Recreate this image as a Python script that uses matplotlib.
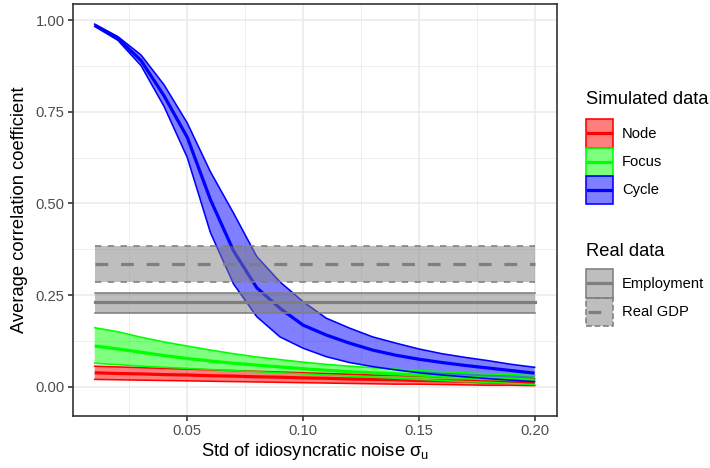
import matplotlib.pyplot as plt
import numpy as np
from matplotlib.patches import Rectangle
from matplotlib.lines import Line2D

plt.rcParams['font.family'] = ['Liberation Sans', 'DejaVu Sans']

# Simulated correlations vs idiosyncratic noise
sigma = [0.01, 0.02, 0.03, 0.04, 0.05, 0.06, 0.07, 0.08, 0.09, 0.10,
         0.11, 0.12, 0.13, 0.14, 0.15, 0.16, 0.17, 0.18, 0.19, 0.20]

node_mean = [0.038, 0.036, 0.035, 0.033, 0.032, 0.030, 0.029, 0.027, 0.026, 0.024,
             0.023, 0.021, 0.020, 0.019, 0.017, 0.016, 0.015, 0.013, 0.012, 0.011]
node_hi = [0.056, 0.054, 0.052, 0.050, 0.048, 0.046, 0.044, 0.042, 0.040, 0.038,
           0.036, 0.034, 0.032, 0.031, 0.029, 0.027, 0.026, 0.024, 0.023, 0.021]
node_lo = [0.020, 0.019, 0.018, 0.017, 0.016, 0.015, 0.014, 0.013, 0.012, 0.011,
           0.010, 0.009, 0.008, 0.007, 0.007, 0.006, 0.005, 0.004, 0.004, 0.003]

focus_mean = [0.111, 0.103, 0.094, 0.085, 0.077, 0.070, 0.064, 0.059, 0.054, 0.049,
              0.045, 0.041, 0.038, 0.035, 0.032, 0.029, 0.026, 0.023, 0.021, 0.018]
focus_hi = [0.161, 0.150, 0.135, 0.122, 0.111, 0.100, 0.090, 0.081, 0.074, 0.067,
            0.061, 0.056, 0.052, 0.048, 0.044, 0.041, 0.038, 0.035, 0.033, 0.030]
focus_lo = [0.064, 0.060, 0.056, 0.053, 0.050, 0.047, 0.044, 0.041, 0.038, 0.035,
            0.032, 0.029, 0.026, 0.023, 0.020, 0.017, 0.014, 0.012, 0.009, 0.006]

cycle_mean = [0.986, 0.950, 0.890, 0.793, 0.680, 0.510, 0.370, 0.270, 0.214, 0.168,
              0.141, 0.119, 0.100, 0.086, 0.075, 0.066, 0.058, 0.051, 0.044, 0.037]
cycle_hi = [0.989, 0.955, 0.905, 0.823, 0.719, 0.586, 0.473, 0.355, 0.286, 0.232,
            0.187, 0.160, 0.136, 0.119, 0.103, 0.090, 0.080, 0.071, 0.061, 0.053]
cycle_lo = [0.983, 0.945, 0.876, 0.764, 0.625, 0.420, 0.280, 0.191, 0.136, 0.105,
            0.082, 0.066, 0.055, 0.046, 0.038, 0.032, 0.027, 0.022, 0.018, 0.014]

# Real data: mean, lower, upper
employment = [0.230, 0.201, 0.257]
real_gdp = [0.336, 0.286, 0.384]

sim_names = ['Node', 'Focus', 'Cycle']
sim_colors = ['#FF0000', '#00FF00', '#0000FF']
real_names = ['Employment', 'Real GDP']
real_styles = ['-', (0, (4, 4))]

LW_MEAN = 2.3
LW_EDGE = 1.15
GREY = '#7F7F7F'

fig = plt.figure(figsize=(7.1, 4.68), dpi=100)
ax = fig.add_axes([0.1024, 0.111, 0.6816, 0.8805])

x = np.array(sigma)
sims = [(node_mean, node_lo, node_hi), (focus_mean, focus_lo, focus_hi),
        (cycle_mean, cycle_lo, cycle_hi)]
for (m, lo, hi), col in zip(sims, sim_colors):
    ax.fill_between(x, lo, hi, facecolor=col, alpha=0.5, linewidth=0, zorder=2)
    ax.plot(x, lo, color=col, lw=LW_EDGE, zorder=3)
    ax.plot(x, hi, color=col, lw=LW_EDGE, zorder=3)
    ax.plot(x, m, color=col, lw=LW_MEAN, zorder=3, solid_capstyle='butt')

xr = [sigma[0], sigma[-1]]
for (m, lo, hi), ls in zip([employment, real_gdp], real_styles):
    ax.fill_between(xr, [lo, lo], [hi, hi], facecolor=GREY, alpha=0.5,
                    linewidth=0, zorder=4)
    ax.plot(xr, [lo, lo], color=GREY, lw=LW_EDGE, ls=ls, zorder=5)
    ax.plot(xr, [hi, hi], color=GREY, lw=LW_EDGE, ls=ls, zorder=5)
    ax.plot(xr, [m, m], color=GREY, lw=LW_MEAN, ls=ls, zorder=5)

# theme_bw look
ax.set_xlim(0.0005, 0.2095)
ax.set_ylim(-0.080, 1.044)
ax.set_xticks([0.05, 0.10, 0.15, 0.20])
ax.set_xticklabels(['0.05', '0.10', '0.15', '0.20'])
ax.set_yticks([0.0, 0.25, 0.5, 0.75, 1.0])
ax.set_yticklabels(['0.00', '0.25', '0.50', '0.75', '1.00'])
ax.set_xticks([0.025, 0.075, 0.125, 0.175], minor=True)
ax.set_yticks([0.125, 0.375, 0.625, 0.875], minor=True)
ax.grid(which='major', color='#EBEBEB', lw=1.2, zorder=0)
ax.grid(which='minor', color='#EBEBEB', lw=0.6, zorder=0)
ax.set_axisbelow(True)
ax.tick_params(which='major', length=3.3, width=1.2, color='#333333',
               labelsize=10.6, labelcolor='#4D4D4D', pad=2.5)
ax.tick_params(which='minor', length=0)
for s in ax.spines.values():
    s.set_color('#333333')
    s.set_linewidth(1.2)

ax.set_xlabel('Std of idiosyncratic noise σ$_\\mathregular{u}$', fontsize=13.2,
              labelpad=2)
ax.set_ylabel('Average correlation coefficient', fontsize=13.2, labelpad=5)


# Legend keys: filled box with outline and a line through the middle
class Key:
    def __init__(self, color, ls):
        self.color = color
        self.ls = ls


class KeyHandler:
    def legend_artist(self, legend, orig_handle, fontsize, handlebox):
        x0, y0 = -handlebox.xdescent, -handlebox.ydescent
        w, h = handlebox.width, handlebox.height
        c, ls = orig_handle.color, orig_handle.ls
        fill = Rectangle((x0, y0), w, h, facecolor=c, alpha=0.5,
                         edgecolor='none', transform=handlebox.get_transform())
        edge = Rectangle((x0, y0), w, h, facecolor='none', edgecolor=c,
                         lw=LW_EDGE, ls=('-' if ls == '-' else '--'),
                         transform=handlebox.get_transform())
        line = Line2D([x0 + 2, x0 + w - 2], [y0 + h / 2] * 2, color=c,
                      lw=LW_MEAN, ls=ls, transform=handlebox.get_transform())
        for a in (fill, edge, line):
            handlebox.add_artist(a)
        return fill


sim_handles = [Key(c, '-') for c in sim_colors]
real_handles = [Key(GREY, ls) for ls in real_styles]

common = dict(frameon=False, fontsize=10.6, handlelength=1.88,
              handleheight=2.57, labelspacing=0, handletextpad=0.6,
              borderpad=0, borderaxespad=0, handler_map={Key: KeyHandler()})
leg1 = fig.legend(sim_handles, sim_names, loc='upper left',
                  bbox_to_anchor=(585.7 / 710, 1 - 119.3 / 468), **common)
leg2 = fig.legend(real_handles, real_names, loc='upper left',
                  bbox_to_anchor=(585.7 / 710, 1 - 269.3 / 468), **common)
fig.text(585.7 / 710, 1 - 100 / 468, 'Simulated data', fontsize=13.2,
         va='center', ha='left')
fig.text(585.7 / 710, 1 - 252 / 468, 'Real data', fontsize=13.2,
         va='center', ha='left')

fig.savefig('out.png', dpi=100)
